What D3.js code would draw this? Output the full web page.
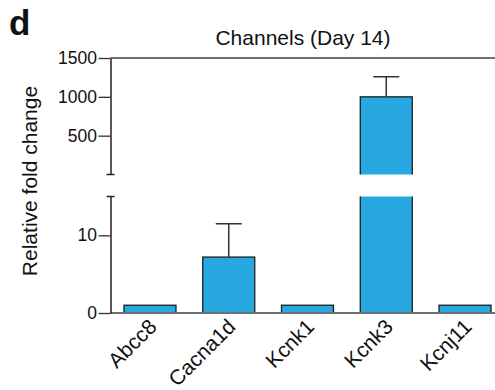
<!DOCTYPE html>
<html>
<head>
<meta charset="utf-8">
<script src="https://cdn.jsdelivr.net/npm/d3@7"></script>
<style>
  html, body { margin: 0; padding: 0; background: #fff; }
  svg { display: block; }
  text { font-family: Arial, "Liberation Sans", Helvetica, sans-serif; fill: #111; }
</style>
</head>
<body>
<svg id="chart" width="495" height="390"></svg>
<script>
// Relative expression of ion channel genes at day 14
const genes = ["Abcc8", "Cacna1d", "Kcnk1", "Kcnk3", "Kcnj11"];
const foldChange = [1, 7.2, 1, 1000, 1];
const errorUp = [0, 4.3, 0, 260, 0];
const lowerTicks = [0, 10];
const upperTicks = [500, 1000, 1500];
const lowerDomain = [0, 15];
const upperDomain = [0, 1500];

const svg = d3.select("#chart");
const W = 495;
const axisX = 110.5;
const barFill = "#27a8e0";

const x = d3.scaleBand().domain(genes).range([110.6, 504.4])
  .paddingInner(0.34).paddingOuter(0.17);
const yLow = d3.scaleLinear().domain(lowerDomain).range([313, 196.5]);
const yUp = d3.scaleLinear().domain(upperDomain).range([174.5, 58]);

const data = genes.map((g, i) => ({ gene: g, value: foldChange[i], err: errorUp[i] }));

// clip regions for the two segments of the broken axis
const defs = svg.append("defs");
defs.append("clipPath").attr("id", "clipLow").append("rect")
  .attr("x", 0).attr("width", W).attr("y", yLow.range()[1]).attr("height", yLow.range()[0] - yLow.range()[1] + 5);
defs.append("clipPath").attr("id", "clipUp").append("rect")
  .attr("x", 0).attr("width", W).attr("y", yUp.range()[1] - 30).attr("height", yUp.range()[0] - yUp.range()[1] + 30);

function drawPanel(scale, clipId, minValue) {
  const [d0, d1] = scale.domain();
  const span = d1 - d0;
  const g = svg.append("g").attr("clip-path", `url(#${clipId})`);
  const visible = data.filter(d => d.value > minValue);
  const top = d => d.value > d1 ? scale(d1 + span * 0.2) : scale(d.value);
  // bars running past a segment edge are extended so no border shows at the break
  g.selectAll("rect.bar").data(visible).join("rect")
    .attr("class", "bar")
    .attr("x", d => x(d.gene))
    .attr("width", x.bandwidth())
    .attr("y", top)
    .attr("height", d => scale(d0) - top(d) + (minValue > 0 ? 10 : 0))
    .attr("fill", barFill)
    .attr("stroke", "#1c1c1c")
    .attr("stroke-width", 1.3);
  // error bars (upper side only)
  const withErr = visible.filter(d => d.err > 0 && d.value <= d1);
  const cap = x.bandwidth() / 2;
  const cx = d => x(d.gene) + x.bandwidth() / 2;
  g.selectAll("line.err").data(withErr).join("line")
    .attr("x1", cx).attr("x2", cx)
    .attr("y1", d => scale(d.value))
    .attr("y2", d => scale(d.value + d.err))
    .attr("stroke", "#333").attr("stroke-width", 1.5);
  g.selectAll("line.cap").data(withErr).join("line")
    .attr("x1", d => cx(d) - cap / 2)
    .attr("x2", d => cx(d) + cap / 2)
    .attr("y1", d => scale(d.value + d.err))
    .attr("y2", d => scale(d.value + d.err))
    .attr("stroke", "#333").attr("stroke-width", 1.5);
}

drawPanel(yLow, "clipLow", lowerDomain[0]);
drawPanel(yUp, "clipUp", lowerDomain[1]);

// horizontal frame lines: x axis at 0 and the top line at 1500
svg.append("line")
  .attr("x1", axisX).attr("x2", W).attr("y1", yLow(0)).attr("y2", yLow(0))
  .attr("stroke", "#707070").attr("stroke-width", 1.8);
svg.append("line")
  .attr("x1", axisX).attr("x2", W).attr("y1", yUp(1500)).attr("y2", yUp(1500))
  .attr("stroke", "#707070").attr("stroke-width", 1.8);

// y axes for both segments
function yAxis(scale, ticks) {
  const g = svg.append("g").attr("transform", `translate(${axisX},0)`)
    .call(d3.axisLeft(scale).tickValues(ticks).tickFormat(d3.format("d"))
      .tickSize(12).tickPadding(1.5).tickSizeOuter(0));
  g.select(".domain").attr("stroke", "#222").attr("stroke-width", 1.5);
  g.selectAll(".tick line").attr("stroke", "#333").attr("stroke-width", 1.3);
  g.selectAll(".tick text").attr("font-size", 17.5)
    .style("font-family", "Arial, 'Liberation Sans', sans-serif").attr("fill", "#111");
  return g;
}
yAxis(yLow, lowerTicks);
yAxis(yUp, upperTicks);

// small caps marking the axis break
[yUp(upperDomain[0]), yLow(lowerDomain[1])].forEach(yy => {
  svg.append("line")
    .attr("x1", axisX - 4).attr("x2", axisX + 4).attr("y1", yy).attr("y2", yy)
    .attr("stroke", "#222").attr("stroke-width", 1.5);
});

// rotated category labels
svg.append("g").selectAll("text").data(genes).join("text")
  .attr("transform", d => `translate(${x(d) + x.bandwidth() / 2 + 8},${328}) rotate(-45)`)
  .attr("text-anchor", "end")
  .attr("font-size", 21)
  .text(d => d);

// title, axis label, panel letter
svg.append("text").attr("x", 303).attr("y", 45).attr("text-anchor", "middle")
  .attr("font-size", 21).text("Channels (Day 14)");
svg.append("text").attr("transform", "translate(37,181) rotate(-90)")
  .attr("text-anchor", "middle").attr("font-size", 21).text("Relative fold change");
svg.append("text").attr("x", 9).attr("y", 35).attr("font-size", 35)
  .attr("font-weight", "bold").text("d");
</script>
</body>
</html>
